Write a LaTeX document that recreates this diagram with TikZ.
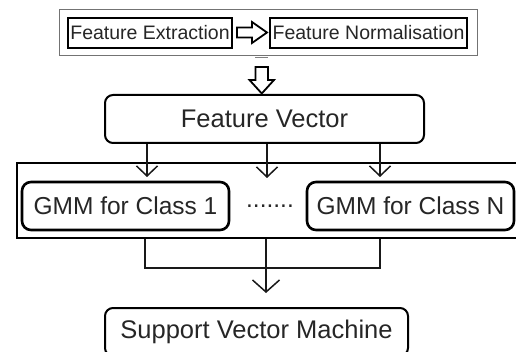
\documentclass[tikz,border=0pt]{standalone}
\usepackage{fontspec}
\setmainfont{Liberation Sans}
\usetikzlibrary{arrows.meta,calc}
\begin{document}
\begin{tikzpicture}[x=1pt,y=-1pt,
  txt/.style={text=black!85,inner sep=0pt,font=\fontsize{24.5}{28}\selectfont},
  bigtxt/.style={text=black!85,inner sep=0pt,font=\fontsize{25.5}{29}\selectfont},
  smallbox/.style={draw=black,line width=2pt,inner sep=0pt,font=\fontsize{19.5}{22}\selectfont,text=black!85},
  rbox/.style={draw=black,line width=2pt,rounded corners=8pt,inner sep=0pt,bigtxt},
  gbox/.style={draw=black,line width=2.6pt,rounded corners=9pt,inner sep=0pt,txt},
  conn/.style={line width=1.5pt,black!90},
  barb/.style={-{Straight Barb[length=10pt,width=21pt,line width=1.5pt]}},
  hollow/.style={draw=black,line width=1.8pt,fill=white,line join=miter}
]
\useasboundingbox (0,0) rectangle (516,352);
\clip (0,0) rectangle (516,352);
% top block
\node[draw=black!55,line width=1pt,minimum width=418pt,minimum height=46pt,inner sep=0pt] (pre) at (268,33) {};
\node[smallbox,minimum width=164pt,minimum height=30pt] (fe) at (150,33) {Feature Extraction};
\node[smallbox,minimum width=197pt,minimum height=30pt] (fn) at (368.5,33) {Feature Normalisation};
% hollow right arrow
\draw[hollow] (237,27.5) -- (252,27.5) -- (252,22) -- (267,32.5) -- (252,43) -- (252,37.5) -- (237,37.5) -- cycle;
% gray dash
\draw[black!50,line width=1pt] (255,58) -- (268,58);
% feature vector
\node[rbox,minimum width=319pt,minimum height=48pt] (fv) at (264.5,119) {Feature Vector};
% hollow down arrow
\draw[hollow] (255.5,67) -- (268,67) -- (268,80) -- (274,80) -- (261.75,93.5) -- (249.5,80) -- (255.5,80) -- cycle;
% GMM group
\node[draw=black,line width=1.5pt,minimum width=510pt,minimum height=75pt,inner sep=0pt] (grp) at (272,200.5) {};
\node[gbox,minimum width=207pt,minimum height=48pt] (g1) at (125.5,206) {GMM for Class 1};
\node[gbox,minimum width=207pt,minimum height=48pt] (gn) at (410.5,206) {GMM for Class N};
\node[txt] (dots) at (270,206) {.......};
% arrows from feature vector
\coordinate (a1) at (147,177);
\coordinate (a2) at (267,178);
\coordinate (a3) at (380,177);
\draw[conn,barb] (fv.south -| a1) -- (a1);
\draw[conn,barb] (fv.south -| a2) -- (a2);
\draw[conn,barb] (fv.south -| a3) -- (a3);
% merge lines
\coordinate (m1) at (145,268);
\coordinate (m2) at (266,268);
\coordinate (m3) at (380,268);
\draw[conn] (grp.south -| m1) -- (m1) -- (m3) -- (grp.south -| m3);
\draw[conn] (grp.south -| m2) -- (m2);
% svm
\node[rbox,minimum width=303pt,minimum height=48pt] (svm) at (256.5,332) {Support Vector Machine};
\coordinate (s2) at ($(svm.north -| m2)+(0,-14)$);
\draw[conn,-{Straight Barb[length=12pt,width=27pt,line width=1.5pt]}] (m2) -- (s2);
\end{tikzpicture}
\end{document}
